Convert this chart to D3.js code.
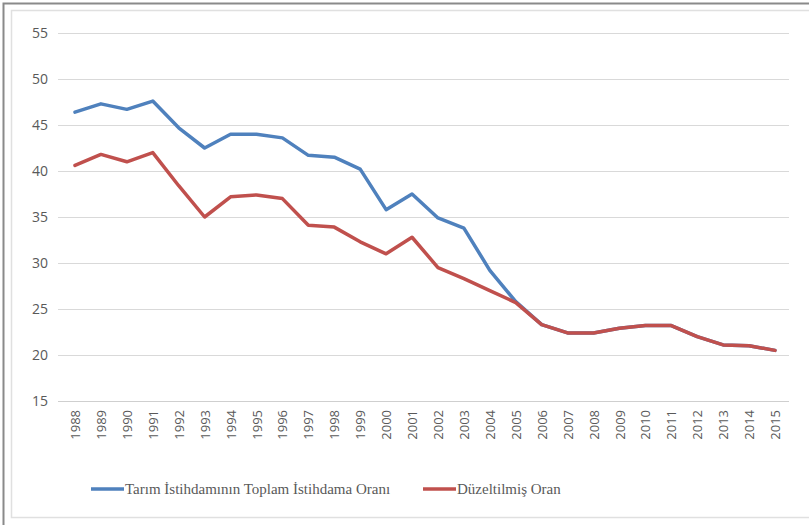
<!DOCTYPE html>
<html>
<head>
<meta charset="utf-8">
<script src="https://cdn.jsdelivr.net/npm/d3@7"></script>
<style>
  body { margin: 0; background: #fff; }
  svg { display: block; }
</style>
</head>
<body>
<div id="chart"></div>
<script>
// DATA
const years = ["1988","1989","1990","1991","1992","1993","1994","1995","1996","1997",
  "1998","1999","2000","2001","2002","2003","2004","2005","2006","2007",
  "2008","2009","2010","2011","2012","2013","2014","2015"];

const tarimOrani = [46.4, 47.3, 46.7, 47.6, 44.7, 42.5, 44.0, 44.0, 43.6, 41.7,
  41.5, 40.2, 35.8, 37.5, 34.9, 33.8, 29.2, 25.8, 23.3, 22.4,
  22.4, 22.9, 23.2, 23.2, 22.0, 21.1, 21.0, 20.5];

const duzeltilmisOran = [40.6, 41.8, 41.0, 42.0, 38.4, 35.0, 37.2, 37.4, 37.0, 34.1,
  33.9, 32.3, 31.0, 32.8, 29.5, 28.3, 27.0, 25.7, 23.3, 22.4,
  22.4, 22.9, 23.2, 23.2, 22.0, 21.1, 21.0, 20.5];

const yTicks = [15, 20, 25, 30, 35, 40, 45, 50, 55];

const seriesNames = ["Tarım İstihdamının Toplam İstihdama Oranı", "Düzeltilmiş Oran"];
const seriesColors = ["#4f81bd", "#c0504d"];

// SETUP
const width = 809, height = 525;
const svg = d3.select("#chart").append("svg")
  .attr("width", width)
  .attr("height", height);

// frames
svg.append("rect")
  .attr("x", 3.5).attr("y", 3.5)
  .attr("width", width + 20).attr("height", height + 20)
  .attr("fill", "none")
  .attr("stroke", "#8a8a8a")
  .attr("stroke-width", 2);
svg.append("rect")
  .attr("x", 11.5).attr("y", 10.5)
  .attr("width", width + 20).attr("height", 507)
  .attr("fill", "none")
  .attr("stroke", "#e0e0e0")
  .attr("stroke-width", 1.5);

const x = d3.scalePoint()
  .domain(years)
  .range([75, 775]);

const y = d3.scaleLinear()
  .domain([15, 55])
  .range([401, 33]);

// gridlines
svg.append("g").selectAll("line")
  .data(yTicks)
  .enter().append("line")
  .attr("x1", 58).attr("x2", 789)
  .attr("y1", d => Math.round(y(d)) + 0.5)
  .attr("y2", d => Math.round(y(d)) + 0.5)
  .attr("stroke", d => d == 15 ? "#cfcfcf" : "#d9d9d9")
  .attr("stroke-width", 1.2);

// y axis labels
const yAxis = d3.axisLeft(y).tickValues(yTicks).tickSize(0).tickPadding(0);
const yAxisG = svg.append("g")
  .attr("transform", "translate(48,0)")
  .call(yAxis);
yAxisG.select(".domain").remove();
yAxisG.selectAll("text")
  .attr("font-family", "'Open Sans', 'Liberation Sans', sans-serif")
  .attr("font-size", 14)
  .attr("fill", "#595959");

// x axis labels
const xAxis = d3.axisBottom(x).tickSize(0).tickPadding(0);
const xAxisG = svg.append("g")
  .attr("transform", "translate(0,401)")
  .call(xAxis);
xAxisG.select(".domain").remove();
xAxisG.selectAll("text")
  .attr("font-family", "'Open Sans', 'Liberation Sans', sans-serif")
  .attr("font-size", 13)
  .attr("fill", "#595959")
  .attr("text-anchor", "end")
  .attr("transform", "rotate(-90)")
  .attr("x", -9)
  .attr("y", 0)
  .attr("dy", "0.35em");

// lines
const line = d3.line()
  .x((d, i) => x(years[i]))
  .y(d => y(d));

[tarimOrani, duzeltilmisOran].forEach((vals, k) => {
  svg.append("path")
    .datum(vals)
    .attr("d", line)
    .attr("fill", "none")
    .attr("stroke", seriesColors[k])
    .attr("stroke-width", 3.5)
    .attr("stroke-linejoin", "round")
    .attr("stroke-linecap", "round");
});

// legend
const legendX = [91, 423];
const legend = svg.append("g").attr("transform", "translate(0,489)");
seriesNames.forEach((name, k) => {
  legend.append("line")
    .attr("x1", legendX[k]).attr("x2", legendX[k] + 33)
    .attr("y1", 0).attr("y2", 0)
    .attr("stroke", seriesColors[k])
    .attr("stroke-width", 3.5);
  legend.append("text")
    .attr("x", legendX[k] + 34)
    .attr("y", 0)
    .attr("dy", "0.35em")
    .attr("font-family", "'Liberation Serif', 'DejaVu Serif', serif")
    .attr("font-size", 15)
    .attr("fill", "#595959")
    .text(name);
});
</script>
</body>
</html>
